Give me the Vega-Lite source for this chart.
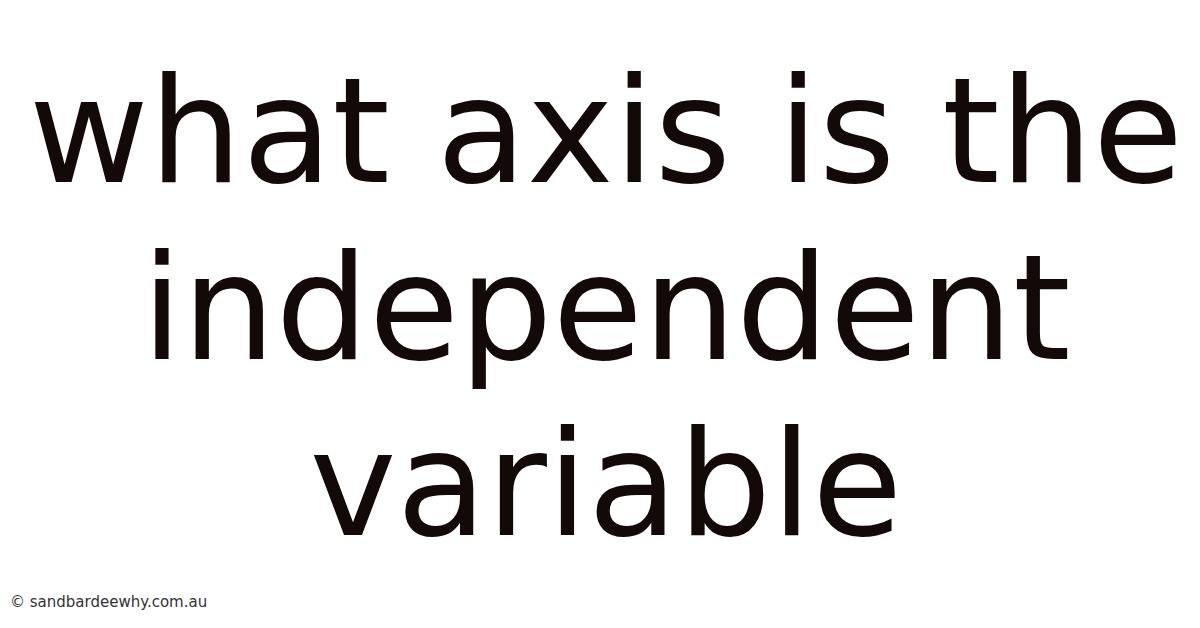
{
  "$schema": "https://vega.github.io/schema/vega-lite/v6.json",
  "width": 1200,
  "height": 628,
  "padding": 0,
  "autosize": {"type": "none"},
  "background": "#ffffff",
  "title": {
    "text": "© sandbardeewhy.com.au",
    "orient": "bottom",
    "anchor": "start",
    "offset": -33,
    "dx": 10,
    "font": "DejaVu Sans",
    "fontSize": 15,
    "fontWeight": "normal",
    "color": "#333333"
  },
  "data": {
    "values": [
      {"line": 1, "text": "what axis is the"},
      {"line": 2, "text": "independent"},
      {"line": 3, "text": "variable"}
    ]
  },
  "mark": {
    "type": "text",
    "font": "DejaVu Sans",
    "fontSize": 147,
    "align": "center",
    "baseline": "alphabetic",
    "dx": 6,
    "color": "#130909"
  },
  "encoding": {
    "y": {
      "field": "line",
      "type": "ordinal",
      "scale": {"type": "point", "range": [182, 535], "padding": 0},
      "axis": null
    },
    "text": {"field": "text"}
  },
  "config": {
    "view": {"stroke": null}
  }
}
